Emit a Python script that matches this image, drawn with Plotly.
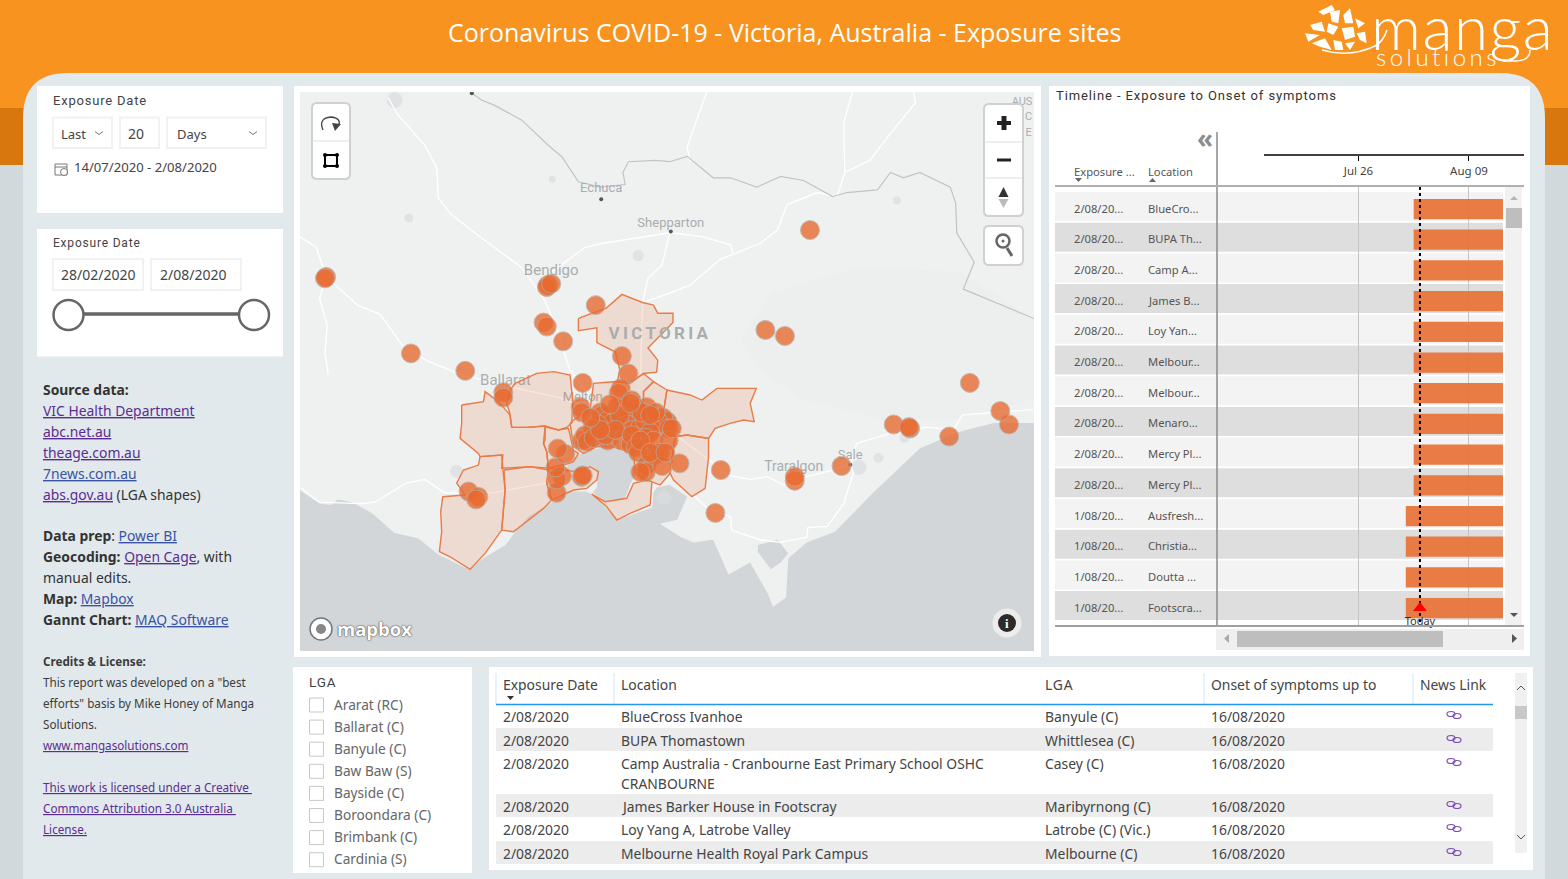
import plotly.graph_objects as go

# ---- data ----
site_lon = [142.24,142.23,144.28,144.27,144.31,144.72,144.24,144.27,144.42,143.02,143.52,144.96,145.02,144.60,143.87,143.87,
            146.69,146.28,146.46,148.16,148.52,148.44,147.46,147.61,147.60,147.97,146.98,146.55,146.55,145.87,145.82,
            143.55,143.64,143.62,144.36,144.41,144.36,144.35,144.44,144.37,144.59,144.60,
            144.95,144.93,144.58,144.59,145.19,144.92,145.10,144.97,144.76,144.78,144.83,145.02,145.01,144.96,145.06,145.13,
            145.38,145.34,145.29,145.24,145.17,144.87,144.94,145.14,145.22,144.83,144.74,144.59,145.27,144.96,145.39,145.04,145.26,
            144.69,144.62,144.64,144.70,144.81,144.90,145.18,145.05,145.25,145.39,145.09,145.11,145.31,145.49,
            145.19,145.18,145.13,145.33,145.05,145.04,144.85,145.22,145.42,145.13,145.22,145.36,144.76,144.67]
site_lat = [-36.71,-36.72,-36.77,-36.785,-36.76,-36.92,-37.05,-37.08,-37.19,-37.28,-37.41,-37.30,-37.43,-37.50,-37.57,-37.61,
            -36.36,-37.105,-37.15,-37.50,-37.81,-37.71,-37.81,-37.84,-37.83,-37.90,-38.12,-38.23,-38.20,-38.15,-38.47,
            -38.31,-38.35,-38.37,-38.32,-38.195,-38.22,-38.13,-38.03,-37.99,-38.20,-38.19,
            -37.54,-37.575,-37.68,-37.72,-37.68,-37.68,-37.69,-37.69,-37.72,-37.74,-37.78,-37.76,-37.81,-37.83,-37.85,-37.83,
            -37.79,-37.76,-37.78,-37.84,-37.78,-37.80,-37.74,-37.72,-37.87,-37.93,-37.81,-37.93,-37.72,-37.93,-37.84,-37.96,-38.04,
            -37.84,-37.89,-37.94,-37.91,-37.89,-37.85,-37.91,-37.89,-37.93,-37.93,-37.98,-38.02,-38.02,-38.10,
            -38.11,-38.165,-38.165,-38.12,-37.63,-37.65,-37.66,-37.74,-37.84,-37.93,-38.02,-38.02,-37.85,-37.76]

golden_plains_lon = [143.487,143.687,143.702,143.825,143.932,143.947,144.085,144.254,144.254,144.239,144.269,144.285,144.116,143.932,143.855,143.865,143.656,143.641,143.472,143.487]
golden_plains_lat = [-37.665,-37.640,-37.565,-37.640,-37.740,-37.832,-37.832,-37.822,-37.926,-37.951,-38.013,-38.137,-38.125,-38.137,-38.137,-38.038,-38.050,-38.026,-37.914,-37.802]
moorabool_lon = [143.932,143.978,144.177,144.331,144.484,144.509,144.499,144.453,144.377,144.254,144.085,143.947,143.926,143.901]
moorabool_lat = [-37.553,-37.503,-37.429,-37.416,-37.441,-37.640,-37.797,-37.832,-37.851,-37.822,-37.832,-37.832,-37.715,-37.653]
colac_lon = [143.656,143.855,143.865,143.886,143.855,143.702,143.564,143.380,143.282,143.303,143.294,143.313,143.518,143.441,143.503,143.641]
colac_lat = [-38.050,-38.038,-38.137,-38.299,-38.598,-38.772,-38.891,-38.797,-38.759,-38.610,-38.461,-38.349,-38.336,-38.249,-38.150,-38.113]
surf_coast_lon = [143.877,144.116,144.285,144.269,144.315,144.239,143.963,143.855,143.886]
surf_coast_lat = [-38.150,-38.125,-38.150,-38.249,-38.374,-38.436,-38.610,-38.598,-38.299]
geelong_lon = [144.285,144.453,144.545,144.668,144.745,144.730,144.637,144.515,144.315,144.269]
geelong_lat = [-38.137,-38.150,-38.162,-38.125,-38.162,-38.224,-38.287,-38.299,-38.374,-38.249]
wyndham_lon = [144.254,144.377,144.469,144.515,144.561,144.515,144.453,144.285,144.269,144.239]
wyndham_lat = [-37.827,-37.851,-37.839,-38.001,-38.026,-38.088,-38.105,-38.137,-38.013,-37.951]
metro_lon = [144.484,144.515,144.668,144.699,144.883,145.036,145.159,145.251,145.159,145.159,145.343,145.420,145.450,145.404,145.312,145.190,145.082,145.067,144.867,144.730,144.607,144.515]
metro_lat = [-37.802,-37.777,-37.702,-37.503,-37.491,-37.503,-37.429,-37.491,-37.565,-37.702,-37.715,-37.777,-37.901,-38.175,-38.262,-38.224,-38.175,-38.026,-37.976,-37.976,-38.026,-37.976]
mitchell_lon = [144.56,144.59,144.82,144.96,145.15,145.25,145.29,145.43,145.43,145.29,145.20,145.29,145.28,145.16,145.04,144.92,144.94,144.90,144.73,144.73,144.56]
mitchell_lat = [-37.02,-37.01,-36.94,-36.84,-36.90,-36.92,-36.98,-36.98,-37.05,-37.17,-37.24,-37.33,-37.42,-37.43,-37.50,-37.49,-37.40,-37.27,-37.20,-37.09,-37.11]
yarra_lon = [145.374,145.588,145.696,145.834,146.196,146.140,146.177,146.079,145.956,145.818,145.757,145.558,145.450,145.420,145.343]
yarra_lat = [-37.553,-37.590,-37.628,-37.541,-37.541,-37.653,-37.789,-37.777,-37.802,-37.839,-37.914,-37.889,-37.901,-37.777,-37.715]
nillumbik_lon = [145.159,145.251,145.374,145.343,145.159]
nillumbik_lat = [-37.565,-37.491,-37.553,-37.715,-37.702]
cardinia_lon = [145.450,145.558,145.757,145.757,145.726,145.604,145.435,145.404]
cardinia_lat = [-37.901,-37.889,-37.914,-38.050,-38.287,-38.349,-38.224,-38.175]
mornington_lon = [144.683,144.806,145.005,145.067,145.190,145.236,145.220,145.036,144.913,144.821]
mornington_lat = [-38.329,-38.386,-38.361,-38.249,-38.224,-38.237,-38.411,-38.473,-38.523,-38.424]

sea_lon = [142.00,142.18,142.28,142.35,142.48,142.66,142.87,143.09,143.27,143.55,143.70,143.89,143.98,144.10,144.32,144.44,144.62,144.69,144.92,145.24,145.25,145.28,145.40,145.56,145.47,145.31,145.50,145.62,145.80,145.94,146.14,146.30,146.35,146.47,146.49,146.66,146.92,147.27,147.70,148.04,148.38,148.75,148.75,142.00]
sea_lat = [-38.30,-38.40,-38.41,-38.37,-38.39,-38.47,-38.62,-38.66,-38.78,-38.89,-38.80,-38.71,-38.61,-38.50,-38.39,-38.31,-38.31,-38.33,-38.52,-38.43,-38.32,-38.28,-38.26,-38.35,-38.52,-38.55,-38.65,-38.69,-38.67,-38.93,-38.84,-39.07,-39.17,-39.10,-38.81,-38.69,-38.61,-38.32,-37.99,-37.87,-37.80,-37.80,-39.50,-39.50]
bay_lon = [144.46,144.60,144.73,144.87,145.06,145.10,145.04,144.99,144.82,144.69,144.73,144.74,144.67,144.55,144.46]
bay_lat = [-38.10,-38.02,-37.99,-37.98,-38.04,-38.165,-38.25,-38.36,-38.39,-38.32,-38.28,-38.17,-38.12,-38.165,-38.165]
inlet_lon = [146.21,146.39,146.49,146.42,146.33,146.21]
inlet_lat = [-38.71,-38.67,-38.77,-38.84,-38.89,-38.76]
highland_lon = [146.33,147.15,148.07,148.75,148.75,148.07,147.33,146.60,146.23,146.05]
highland_lat = [-36.83,-36.63,-36.67,-37.02,-37.62,-37.77,-37.77,-37.62,-37.40,-37.18]

murray_lon = [143.58,143.67,143.79,144.04,144.28,144.41,144.56,144.76,144.99,144.97,145.02,145.27,145.40,145.56,145.80,145.96,146.20,146.42,146.63,146.90,147.03,147.31,147.43,147.55,147.70,147.98,148.03,148.04,148.20,148.10,148.75]
murray_lat = [-35.34,-35.39,-35.43,-35.54,-35.725,-35.815,-36.00,-36.04,-36.02,-35.93,-35.85,-35.84,-35.85,-35.81,-35.97,-35.97,-36.04,-35.96,-35.99,-36.11,-36.08,-36.06,-35.93,-35.97,-35.93,-36.04,-36.16,-36.38,-36.60,-36.80,-37.02]

road_lons = [
    [142.00,142.15,142.24,142.53,142.74,142.94,143.18,143.49,143.93,144.39,144.99],
    [142.81,142.89,143.15,143.26,143.27,143.40,143.64,144.04,144.24,144.35,144.48,144.76,144.96],
    [144.32,144.62,144.78,145.40,145.71,145.96,145.98],
    [145.13,145.15,145.40,145.59,145.86,146.23,146.39,146.48,146.76,146.94,147.01,147.24,147.40,147.66,147.64],
    [147.01,147.00,147.08],
    [145.59,145.56,145.74],
    [145.40,145.33,145.20,145.15],
    [142.24,142.18,142.25,142.23,142.26],
    [145.39,145.77,145.94,146.14,146.30,146.44,146.66,146.90,147.06,147.12,147.46,147.77,148.01,148.09,148.38,148.74],
    [145.62,145.74,145.96,145.97,146.23,146.42,146.66,146.67,146.85,147.00,147.09,147.06],
    [142.00,142.18,142.57,142.69,142.97,143.15,143.33,143.77,144.32],
]
road_lats = [
    [-36.41,-36.49,-36.71,-36.92,-36.99,-37.22,-37.34,-37.44,-37.53,-37.61,-37.81],
    [-35.37,-35.49,-35.73,-35.90,-36.12,-36.25,-36.40,-36.64,-36.87,-37.07,-37.40,-37.70,-37.81],
    [-36.67,-36.49,-36.46,-36.38,-36.41,-36.47,-36.53],
    [-37.48,-36.90,-36.83,-36.77,-36.58,-36.46,-36.36,-36.17,-36.08,-36.11,-35.93,-35.84,-35.67,-35.41,-35.33],
    [-35.93,-35.56,-35.33],
    [-35.85,-35.74,-35.33],
    [-36.38,-36.62,-36.72,-36.90],
    [-36.71,-36.87,-37.07,-37.27,-37.44],
    [-37.85,-38.08,-38.19,-38.22,-38.20,-38.26,-38.20,-38.15,-38.11,-37.95,-37.87,-37.83,-37.85,-37.74,-37.72,-37.70],
    [-38.34,-38.43,-38.50,-38.60,-38.67,-38.69,-38.65,-38.58,-38.57,-38.40,-38.17,-38.11],
    [-38.28,-38.39,-38.40,-38.39,-38.25,-38.22,-38.32,-38.32,-38.24],
]

lake_lon = [142.87,143.00,144.32,145.11,143.44,145.35,147.14,147.32,147.56,146.39,147.49]
lake_lat = [-35.39,-36.27,-35.98,-36.55,-38.16,-38.36,-38.13,-38.06,-37.91,-37.14,-36.14]
lake_size = [16,9,7,11,13,14,15,10,10,9,8]

town_lon = [144.77,145.41,147.06,143.58]
town_lat = [-36.13,-36.37,-38.11,-35.34]

place_names = ["Echuca","Shepparton","Bendigo","Ballarat","Melton","Melbourne","Traralgon","Sale","AUS","C","E"]
place_lon = [144.77,145.41,144.31,143.89,144.60,144.85,146.54,147.06,148.64,148.70,148.70]
place_lat = [-36.05,-36.31,-36.665,-37.49,-37.61,-37.95,-38.13,-38.04,-35.41,-35.52,-35.64]
place_size = [13,13,15,15,13,15,14,13,11,11,11]

gantt_dates = ["2/08/20..."]*10 + ["1/08/20..."]*4
gantt_locations = ["BlueCro...","BUPA Th...","Camp A...","James B...","Loy Yan...","Melbour...","Melbour...","Menaro...","Mercy Pl...","Mercy Pl...","Ausfresh...","Christia...","Doutta ...","Footscra..."]
gantt_start = ["2020-08-02"]*10 + ["2020-08-01"]*4
gantt_days = [14]*14
gantt_ticks = ["2020-07-26","2020-08-09"]
gantt_range = ["2020-07-08 05:00","2020-08-13 07:30"]
today_date = "2020-08-02 19:00"

lga_names = ["Ararat (RC)","Ballarat (C)","Banyule (C)","Baw Baw (S)","Bayside (C)","Boroondara (C)","Brimbank (C)","Cardinia (S)"]

table_headers = ["Exposure Date","Location","LGA","Onset of symptoms up to","News Link"]
table_dates = ["2/08/2020"]*6
table_locations = ["BlueCross Ivanhoe","BUPA Thomastown","Camp Australia - Cranbourne East Primary School OSHC<br>CRANBOURNE","James Barker House in Footscray","Loy Yang A, Latrobe Valley","Melbourne Health Royal Park Campus"]
table_lgas = ["Banyule (C)","Whittlesea (C)","Casey (C)","Maribyrnong (C)","Latrobe (C) (Vic.)","Melbourne (C)"]
table_onset = ["16/08/2020"]*6

ORANGE = "#f7931e"
DARK_ORANGE = "#d9770f"
PANEL = "#e1e9ec"
SIDE = "#d1d9dc"
SITE = "#e8692e"
SEA = "#d2d6d8"
LAND = "#eff1f1"
PURPLE = "#5c2d91"
BLUE = "#3a53a4"
UI = "Noto Sans"
DIN = "Roboto"

shapes = []
notes = []


def rect(x0, y0, x1, y1, fill, line=None, width=0, layer="below"):
    shapes.append(dict(type="rect", xref="x", yref="y", x0=x0, y0=y0, x1=x1, y1=y1, fillcolor=fill,
                       line=dict(color=line or fill, width=width), layer=layer))


def seg(x0, y0, x1, y1, color, width=1, layer="below"):
    shapes.append(dict(type="line", xref="x", yref="y", x0=x0, y0=y0, x1=x1, y1=y1,
                       line=dict(color=color, width=width), layer=layer))


def circ(cx, cy, r, fill, line=None, width=0, layer="below", ry=None):
    shapes.append(dict(type="circle", xref="x", yref="y", x0=cx-r, x1=cx+r, y0=cy-(ry or r), y1=cy+(ry or r),
                       fillcolor=fill, line=dict(color=line or fill, width=width), layer=layer))


def path(d, fill="rgba(0,0,0,0)", line=None, width=0, layer="below"):
    shapes.append(dict(type="path", xref="x", yref="y", path=d, fillcolor=fill,
                       line=dict(color=line or "rgba(0,0,0,0)", width=width), layer=layer))


def round_rect(x0, y0, x1, y1, r, fill, line, width, layer="above"):
    d = (f"M{x0+r},{y0} L{x1-r},{y0} Q{x1},{y0} {x1},{y0+r} L{x1},{y1-r} Q{x1},{y1} {x1-r},{y1} "
         f"L{x0+r},{y1} Q{x0},{y1} {x0},{y1-r} L{x0},{y0+r} Q{x0},{y0} {x0+r},{y0} Z")
    path(d, fill, line, width, layer)


def txt(x, y, s, size=14, color="#444444", family=UI, anchor="left", **kw):
    font = dict(size=size, color=color, family=family)
    font.update(kw)
    if anchor == "left":
        x = x - 0.8
    notes.append(dict(x=x, y=y, xref="x", yref="y", text=s, showarrow=False, xanchor=anchor, yanchor="middle",
                      align="left", font=font, borderpad=0))


def link(s, color=PURPLE):
    return f'<span style="color:{color}"><u>{s}</u></span>'


def chevron(cx, cy, w=4, h=3, up=False, color="#777777", layer="below"):
    sign = -1 if up else 1
    path(f"M{cx-w},{cy-sign*h/2} L{cx},{cy+sign*h/2} L{cx+w},{cy-sign*h/2}", line=color, width=1, layer=layer)


def tri(x0, y0, x1, y1, x2, y2, color, layer="below"):
    path(f"M{x0},{y0} L{x1},{y1} L{x2},{y2} Z", color, color, 0, layer)


# ---- page background ----
rect(0, 0, 1568, 879, SIDE)
rect(0, 0, 1568, 108, ORANGE)
rect(0, 108, 1568, 165, DARK_ORANGE)
path("M23,879 L23,118 Q23,73 68,73 L1500,73 Q1545,73 1545,118 L1545,879 Z", PANEL)

txt(784, 32, "Coronavirus COVID-19 - Victoria, Australia - Exposure sites", 25, "white", "Open Sans", "center")

# logo
for poly in [[(85,35),(125,15),(135,30),(100,45)],[(120,35),(150,30),(145,70),(125,65)],[(160,45),(180,25),(190,70),(165,70)],
             [(195,55),(225,70),(205,85)],[(60,75),(95,65),(105,95),(70,90)],[(115,70),(145,80),(130,105),(110,95)],
             [(155,85),(190,80),(195,110),(165,120)],[(200,100),(225,95),(230,130),(210,120)],[(45,100),(90,105),(55,125)],
             [(65,130),(105,115),(125,150),(90,140)],[(130,120),(155,125),(160,150),(135,150)],[(165,130),(195,125),(180,150)]]:
    d = "M" + " L".join(f"{1290+a/3:.1f},{b/3:.1f}" for a, b in poly) + " Z"
    path(d, "white", "white", 0)
path("M1322,50 Q1350,58 1375,46 Q1383,42 1387,30", line="white", width=1.5)
path("M1503,61 L1515,61 Q1530,61 1530,50", line="white", width=1.5)
txt(1371, 26, "manga", 62, "white", "Lato", weight=300)
txt(1376, 56, "solutions", 24, "white", "Lato", weight=300)

# ---- date slicers ----
rect(37, 86, 283, 213, "white")
rect(37, 229, 283, 356.5, "white")
txt(53, 100.5, "Exposure Date", 13, "#444444", DIN)
for a, b in [(53, 112), (120, 159), (167, 266)]:
    rect(a, 117.5, b, 148, "white", "#f1f1f1", 2)
txt(61, 133.5, "Last", 13)
txt(127.5, 133, "20", 14)
txt(176.5, 133.5, "Days", 13)
chevron(99, 133)
chevron(253, 133)
rect(55, 164, 67, 175, "white", "#777777", 1)
seg(55, 167, 67, 167, "#777777", 1)
circ(64, 172, 3.5, "white", "#777777", 1)
txt(74, 166.5, "14/07/2020 - 2/08/2020", 13.1)
txt(53, 242.5, "Exposure Date", 12, "#444444", DIN)
for a, b in [(53, 143), (151, 241)]:
    rect(a, 259, b, 290, "white", "#f1f1f1", 2)
txt(61, 274.5, "28/02/2020", 14)
txt(159.5, 274.5, "2/08/2020", 14)
seg(84, 314, 239, 314, "#666666", 3.5)
circ(68.5, 315, 15, "white", "#666666", 2.5)
circ(254, 315, 15, "white", "#666666", 2.5)

# ---- source text ----
lines = [
    (389, "<b>Source data:</b>"),
    (410, link("VIC Health Department")),
    (431, link("abc.net.au")),
    (452, link("theage.com.au")),
    (473, link("7news.com.au", BLUE)),
    (494, link("abs.gov.au") + " (LGA shapes)"),
    (535, "<b>Data prep</b>: " + link("Power BI", BLUE)),
    (556, "<b>Geocoding:</b> " + link("Open Cage") + ", with"),
    (577, "manual edits."),
    (598, "<b>Map:</b> " + link("Mapbox", BLUE)),
    (619, "<b>Gannt Chart:</b> " + link("MAQ Software", BLUE)),
]
for y, s in lines:
    txt(43, y, s, 13.9, "#333333")
small = [
    (661, "<b>Credits &amp; License:</b>"),
    (682, "This report was developed on a \"best"),
    (703, "efforts\" basis by Mike Honey of Manga"),
    (724, "Solutions."),
    (745, link("www.mangasolutions.com")),
    (787, link("This work is licensed under a Creative ")),
    (808, link("Commons Attribution 3.0 Australia ")),
    (829, link("License.")),
]
for y, s in small:
    txt(43, y, s, 11.7, "#3c3c3c")

# ---- map card ----
rect(294, 86, 1041, 657, "white")
rect(300, 92, 1034, 651, LAND)

# map buttons
round_rect(312, 103, 350, 179, 5, "white", "#d0d0d0", 2)
seg(312, 141, 350, 141, "#dddddd", 1, "above")
path("M323,130 Q318,118 331,117 Q341,118 339,125", line="#444444", width=1.3, layer="above")
tri(332, 123, 341, 124, 335, 131, "#444444", "above")
path("M325,155 L337,155 L337,166 L325,166 Z", line="black", width=2, layer="above")
for cx, cy in [(325, 155), (337, 155), (325, 166), (337, 166)]:
    circ(cx, cy, 2, "black", layer="above")
round_rect(984, 104, 1023, 216, 5, "white", "#d0d0d0", 2)
seg(984, 142, 1023, 142, "#dddddd", 1, "above")
seg(984, 178, 1023, 178, "#dddddd", 1, "above")
rect(997, 121, 1011, 125, "#222222", layer="above")
rect(1001.5, 116, 1006.5, 130, "#222222", layer="above")
rect(997, 158.5, 1011, 161.5, "#222222", layer="above")
tri(1003.5, 187, 998.5, 197, 1008.5, 197, "#333333", "above")
tri(998.5, 199, 1008.5, 199, 1003.5, 208, "#bbbbbb", "above")
round_rect(984, 226, 1023, 265, 5, "white", "#d0d0d0", 2)
circ(1003, 241, 6.5, "white", "#666666", 2.5, "above")
circ(1003, 241, 1.5, "#666666", layer="above")
seg(1007, 248, 1012, 256, "#666666", 3, "above")
circ(321, 629, 11, "white", "#777777", 1.5, "above")
circ(321, 629, 5, "#888888", layer="above")
circ(1007, 623, 14.5, "#ececec", layer="above")
circ(1007, 623, 9, "#2b2b2b", layer="above")
txt(1007, 623, "<b>i</b>", 13, "white", "Liberation Serif", "center")
txt(337, 628, "<b>mapbox</b>", 18.5, "white", "Open Sans", shadow="0 0 2px #444444, 0 0 1px #444444")

# ---- gantt card ----
rect(1049, 86, 1530, 656, "white")
txt(1056, 95, "Timeline - Exposure to Onset of symptoms", 13, "#333333", DIN)
for i in range(len(gantt_locations)):
    rect(1055, 192+30.7*i, 1503, 221+30.7*i, "#f3f3f3" if i % 2 == 0 else "#dedede")
    txt(1073.5, 208+30.7*i, gantt_dates[i], 11.2, "#555555")
    txt(1147.5, 208+30.7*i, gantt_locations[i], 11.2, "#555555")
txt(1073.5, 171.5, "Exposure ...", 11.2, "#555555")
txt(1147.5, 171.5, "Location", 11.2, "#555555")
tri(1075, 178, 1082, 178, 1078.5, 182, "#666666")
tri(1149, 182, 1156, 182, 1152.5, 178, "#666666")
txt(1205, 138, "<b>«</b>", 26, "#8c8c8c", UI, "center")
seg(1217, 132, 1217, 626, "#8a8a8a", 1.5, "above")
seg(1264, 155, 1524, 155, "black", 1.3)
seg(1055, 186, 1524, 186, "#b0b0b0", 2, "above")
seg(1055, 626, 1524, 626, "#a0a0a0", 2, "above")
rect(1505, 187, 1522, 625, "#f1f1f1", layer="above")
rect(1506, 208, 1522, 228, "#bebebe", layer="above")
tri(1510, 200, 1518, 200, 1514, 196, "#b5b5b5", "above")
tri(1510, 613, 1518, 613, 1514, 617, "#555555", "above")
rect(1216, 629, 1524, 650, "#efefef", layer="above")
rect(1237, 631, 1443, 647, "#bebebe", layer="above")
tri(1229, 634, 1229, 643, 1224, 638.5, "#aaaaaa", "above")
tri(1512, 634, 1512, 643, 1517, 638.5, "#555555", "above")

# ---- LGA slicer ----
rect(293, 667, 472, 873, "white")
txt(309, 681.5, "LGA", 13.5, "#444444", DIN)
for i, name in enumerate(lga_names):
    y = 705 + 22.1*i
    rect(309.5, y-7, 323.5, y+7, "white", "#c8c8c8", 1)
    txt(334, y-1, name, 13.7, "#666666")

# ---- table ----
rect(489, 667, 1533, 870, "white")
row_top = [705, 728, 752, 794, 818, 841]
row_bot = [727, 751, 793, 817, 840, 864]
text_y = [716, 740, 763, 806, 829, 853]
for i in range(6):
    if i % 2 == 1:
        rect(496, row_top[i], 1493, row_bot[i], "#ececec")
    txt(502.5, text_y[i], table_dates[i], 13.9)
    if "<br>" in table_locations[i]:
        a, b = table_locations[i].split("<br>")
        txt(620.5, text_y[i], a, 13.9)
        txt(620.5, text_y[i]+20, b, 13.9)
    else:
        txt(620.5, text_y[i], table_locations[i], 13.9)
    txt(1045, text_y[i], table_lgas[i], 13.9)
    txt(1211, text_y[i], table_onset[i], 13.9)
    circ(1451, text_y[i]-2, 4, "rgba(0,0,0,0)", "#7a4fb0", 1.2, ry=2.5)
    circ(1457, text_y[i], 4, "rgba(0,0,0,0)", "#7a4fb0", 1.2, ry=2.5)
for x, s in zip([502.5, 620.5, 1045, 1211, 1420], table_headers):
    txt(x, 684, s, 13.9)
for x in [614, 1204, 1413]:
    seg(x, 673, x, 704, "#cfe6fb", 1)
seg(496, 673, 496, 704, "#cfe6fb", 1)
seg(496, 704.5, 1493, 704.5, "#2196f3", 1.5)
tri(507, 696, 514, 696, 510.5, 700, "#333333")
rect(1515, 673, 1527, 853, "#f0f0f0")
rect(1515, 706, 1527, 719, "#c8c8c8")
chevron(1521, 688, 4, 4, up=True, color="#555555")
chevron(1521, 837, 4, 4, color="#555555")

# ---- traces ----
fig = go.Figure()
fig.add_trace(go.Scatter(x=[None], y=[None], xaxis="x", yaxis="y", showlegend=False))


def map_trace(**kw):
    fig.add_trace(go.Scatter(xaxis="x2", yaxis="y2", showlegend=False, hoverinfo="skip", **kw))


map_trace(x=highland_lon, y=highland_lat, mode="lines", fill="toself", fillcolor="#edefef", line=dict(width=0))
map_trace(x=sea_lon, y=sea_lat, mode="lines", fill="toself", fillcolor=SEA, line=dict(width=0))
map_trace(x=bay_lon, y=bay_lat, mode="lines", fill="toself", fillcolor=SEA, line=dict(width=0))
map_trace(x=inlet_lon, y=inlet_lat, mode="lines", fill="toself", fillcolor=SEA, line=dict(width=0))
map_trace(x=lake_lon, y=lake_lat, mode="markers", marker=dict(size=lake_size, color="#dadddf", line=dict(width=0)))
for lon, lat in zip(road_lons, road_lats):
    map_trace(x=lon, y=lat, mode="lines", line=dict(color="white", width=1.3))
map_trace(x=murray_lon, y=murray_lat, mode="lines", line=dict(color="#bfc4c6", width=1.2))
map_trace(x=town_lon, y=town_lat, mode="markers", marker=dict(size=4, color="#555555"))
map_trace(x=place_lon, y=place_lat, mode="text", text=place_names, textposition="middle center",
          textfont=dict(size=place_size, color="#a9adaf", family=DIN))
for lon, lat in [(golden_plains_lon, golden_plains_lat), (moorabool_lon, moorabool_lat), (colac_lon, colac_lat),
                 (surf_coast_lon, surf_coast_lat), (geelong_lon, geelong_lat), (wyndham_lon, wyndham_lat),
                 (metro_lon, metro_lat), (mitchell_lon, mitchell_lat), (yarra_lon, yarra_lat),
                 (nillumbik_lon, nillumbik_lat), (cardinia_lon, cardinia_lat), (mornington_lon, mornington_lat)]:
    map_trace(x=lon + lon[:1], y=lat + lat[:1], mode="lines", fill="toself", fillcolor="rgba(232,105,46,0.17)",
              line=dict(color="#ea7b48", width=1.4))
map_trace(x=[145.31], y=[-37.14], mode="text", text=["VICTORIA"], textposition="middle center",
          textfont=dict(size=17, color="#a9adaf", family=DIN, weight=700))
map_trace(x=site_lon, y=site_lat, mode="markers",
          marker=dict(size=19, color=SITE, opacity=0.78, line=dict(color="#b7aaa2", width=1)))

day_ms = 86400000
fig.add_trace(go.Bar(y=list(range(len(gantt_start))), x=[d*day_ms for d in gantt_days], base=gantt_start,
                     orientation="h", width=0.66, xaxis="x3", yaxis="y3", showlegend=False,
                     marker=dict(color="#e8743b", opacity=0.95, line=dict(width=0)), hoverinfo="skip"))
fig.add_trace(go.Scatter(x=[today_date, today_date], y=[-0.717, 13.55], xaxis="x3", yaxis="y3", mode="lines",
                         line=dict(color="black", width=2, dash="3px,3px"), showlegend=False, hoverinfo="skip"))
fig.add_trace(go.Scatter(x=[today_date], y=[13], xaxis="x3", yaxis="y3", mode="markers+text", text=["Today"],
                         textposition="bottom center", textfont=dict(size=11, color="#333333", family=UI),
                         cliponaxis=False,
                         marker=dict(symbol="triangle-up", size=12, color="red"), showlegend=False, hoverinfo="skip"))

fig.update_layout(
    width=1568, height=879, margin=dict(l=0, r=0, t=0, b=0),
    paper_bgcolor=SIDE, plot_bgcolor="rgba(0,0,0,0)",
    shapes=shapes, annotations=notes, showlegend=False, barmode="overlay",
    xaxis=dict(domain=[0, 1], range=[0, 1568], visible=False, fixedrange=True),
    yaxis=dict(domain=[0, 1], range=[879, 0], visible=False, fixedrange=True),
    xaxis2=dict(domain=[300/1568, 1034/1568], range=[142, 148.75], visible=False, anchor="y2"),
    yaxis2=dict(domain=[1-651/879, 1-92/879], range=[-39.5, -35.33], visible=False, anchor="x2"),
    xaxis3=dict(domain=[1218/1568, 1503/1568], range=gantt_range, type="date", anchor="free", position=1-155/879,
                tickvals=gantt_ticks, tickformat="%b %d", ticks="outside", ticklen=5, tickcolor="black",
                tickfont=dict(size=11.5, color="#444444", family=UI), showgrid=True, gridcolor="#c4c4c4",
                showline=False, zeroline=False),
    yaxis3=dict(domain=[1-625/879, 1-187/879], range=[13.55, -0.717], visible=False, anchor="x3"),
)

# page margin and the tracked-out DIN labels
post = """
document.body.style.margin='0';
document.querySelectorAll('text').forEach(function(t){
  var s=t.textContent;
  if(s==='VICTORIA'){t.style.letterSpacing='3.3px';}
  if(s==='Exposure Date'&&t.style.fontFamily.indexOf('Roboto')>=0){t.style.letterSpacing='0.8px';}
  if(s==='LGA'){t.style.letterSpacing='0.8px';}
  if(s.indexOf('Timeline')===0){t.style.letterSpacing='0.9px';}
  if(s==='solutions'){t.style.letterSpacing='3.5px';}
  if(s==='manga'){t.style.letterSpacing='1.5px';}
});
"""
fig.write_html("out.html", post_script=post, config=dict(displayModeBar=False))
